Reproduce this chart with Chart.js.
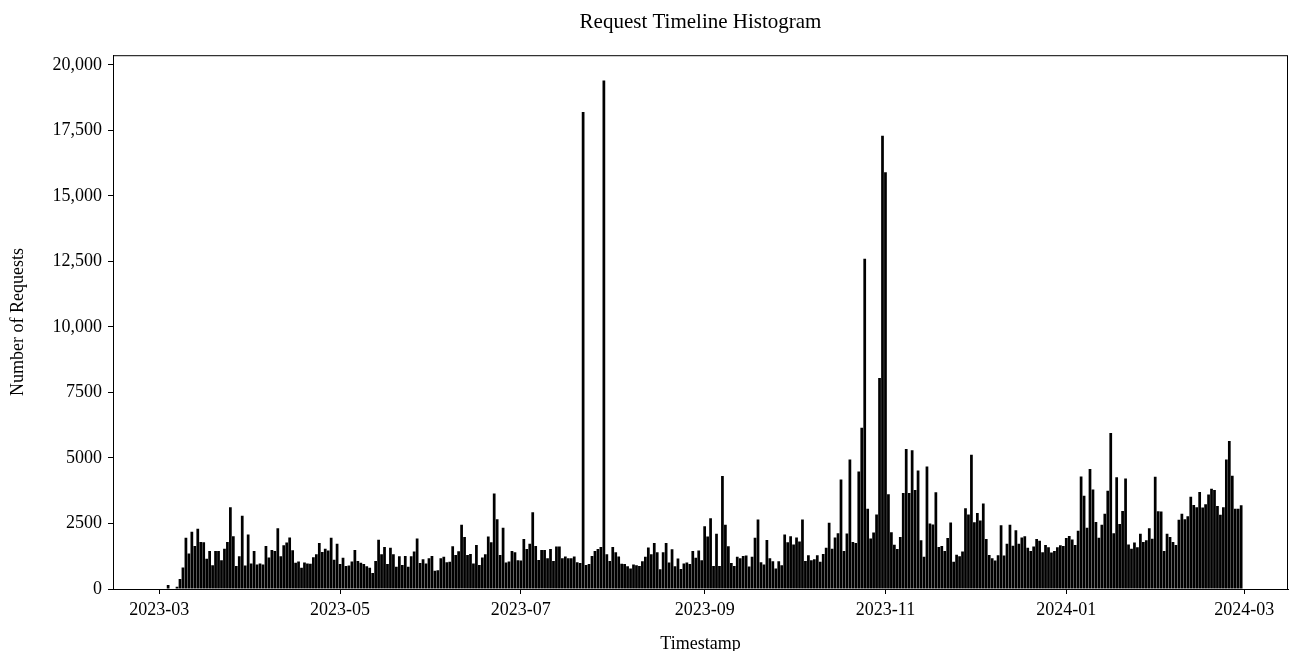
<!DOCTYPE html>
<html>
<head>
<meta charset="utf-8">
<title>Request Timeline Histogram</title>
<script src="https://cdn.jsdelivr.net/npm/chart.js@4.4.1/dist/chart.umd.min.js"></script>
<style>
  html, body { margin: 0; padding: 0; background: #fff; }
  #wrap { width: 1290px; height: 651px; }
</style>
</head>
<body>
<div id="wrap"><canvas id="histChart" width="1290" height="651"></canvas></div>
<script>
// Histograma diario de peticiones (primer bin = 2023-03-04)
const originDate = '2023-03-01';
const firstDay = '2023-03-04';

const requestCounts = [
  150, 0, 0, 90, 380, 820, 1960, 1350, 2180, 1640, 2300, 1790, 1780, 1150, 1450, 910,
  1450, 1450, 1100, 1540, 1790, 3120, 2010, 880, 1250, 2800, 900, 2080,
  970, 1450, 935, 970, 935, 1640, 1200, 1490, 1450, 2320, 1250, 1670, 1770, 1970, 1480,
  1000, 1050, 810, 1010, 970, 960, 1210, 1330, 1760, 1410, 1540, 1470, 1960, 1120, 1730,
  950, 1190, 880,
  900, 1050, 1490, 1070, 1000, 950, 870, 810, 610, 1070, 1880, 1330, 1600, 950, 1570,
  1330, 850, 1250, 920, 1260, 850, 1250, 1430, 1930, 990, 1140, 970, 1170, 1260, 700,
  720, 1170, 1230, 1020,
  1040, 1630, 1300, 1440, 2450, 1980, 1300, 1340, 970, 1680, 920, 1200, 1330, 2000, 1780,
  3640, 2660, 1300, 2340, 1010, 1050, 1450, 1400, 1100, 1090, 1910, 1530, 1730, 2930,
  1640, 1110, 1490, 1490, 1170, 1530,
  1070, 1620, 1620, 1170, 1240, 1170, 1170, 1240, 1020, 990, 18200, 920, 950, 1260, 1450,
  1530, 1600, 19400, 1330, 1070, 1600, 1400, 1240, 960, 950, 870, 780, 935, 910, 880,
  1060, 1230, 1580, 1330,
  1760, 1400, 750, 1400, 1760, 1010, 1520, 870, 1160, 760, 970, 1010, 950, 1450, 1190,
  1470, 1100, 2390, 2000, 2700, 880, 2110, 880, 4310, 2450, 1630, 990, 880, 1230, 1170,
  1260, 1280, 860, 1230,
  1960, 2650, 1020, 935, 1870, 1170, 1060, 780, 1060, 910, 2080, 1780, 2010, 1700, 1970,
  1810, 2650, 1070, 1290, 1100, 1140, 1290, 1040, 1340, 1570, 2530, 1540, 1970, 2130,
  4180, 1450, 2120, 4940,
  1790, 1760, 4480, 6150, 12600, 3060, 1930, 2160, 2840, 8050, 17300, 15900, 3620, 2170,
  1690, 1530, 1980, 3660, 5340, 3660, 5290, 3780, 4520, 1860, 1230, 4670, 2500, 2460,
  3690, 1600, 1640, 1450, 1950,
  2540, 1040, 1310, 1250, 1430, 3080, 2840, 5120, 2550, 2900, 2610, 3260, 1910, 1300,
  1170, 1090, 1290, 2430, 1280, 1730, 2450, 1650, 2240, 1730, 1970, 2010, 1570, 1450,
  1620, 1910, 1840, 1400, 1680, 1590,
  1390, 1450, 1590, 1670, 1640, 1950, 2020, 1890, 1680, 2220, 4290, 3560, 2340, 4580,
  3800, 2560, 1960, 2450, 2870, 3750, 5950, 2130, 4260, 2480, 2980, 4220, 1700, 1540,
  1770, 1590, 2110, 1790, 1860, 2320,
  1920, 4280, 2970, 2960, 1450, 2110, 1980, 1790, 1680, 2640, 2870, 2660, 2780, 3520,
  3210, 3120, 3700, 3110, 3230, 3610, 3830, 3780, 3170, 2830, 3120, 4940, 5650, 4320,
  3060, 3060, 3200
];

const tickDates = ['2023-03-01', '2023-05-01', '2023-07-01', '2023-09-01', '2023-11-01', '2024-01-01', '2024-03-01'];
const tickLabels = ['2023-03', '2023-05', '2023-07', '2023-09', '2023-11', '2024-01', '2024-03'];
const yTicks = [0, 2500, 5000, 7500, 10000, 12500, 15000, 17500, 20000];

function dayOffset(s) {
  return Math.round((Date.parse(s) - Date.parse(originDate)) / 86400000);
}

const start = dayOffset(firstDay);
const points = requestCounts.map((v, i) => ({ x: start + i, y: v }));
const xTickValues = tickDates.map(dayOffset);

const serif = "'Liberation Serif', 'Times New Roman', serif";

// marco completo como en matplotlib
const frame = {
  id: 'frame',
  afterDraw(chart) {
    const a = chart.chartArea;
    const ctx = chart.ctx;
    ctx.save();
    ctx.strokeStyle = '#000';
    ctx.lineWidth = 1;
    ctx.strokeRect(a.left + 0.5, a.top + 0.5, a.right - a.left - 1, a.bottom - a.top);
    ctx.restore();
  }
};

new Chart(document.getElementById('histChart'), {
  type: 'bar',
  data: {
    datasets: [{
      label: 'Requests',
      data: points,
      backgroundColor: '#000',
      borderWidth: 0,
      barPercentage: 0.92,
      categoryPercentage: 1.0
    }]
  },
  options: {
    responsive: false,
    animation: false,
    layout: { padding: { left: 0, right: 2, top: 0, bottom: 0 } },
    plugins: {
      legend: { display: false },
      tooltip: { enabled: false },
      title: {
        display: true,
        text: 'Request Timeline Histogram',
        fullSize: false,
        color: '#000',
        font: { family: serif, size: 21, weight: 'normal', lineHeight: 1.2 },
        padding: { top: 10, bottom: 20 }
      }
    },
    scales: {
      x: {
        type: 'linear',
        min: -15.6,
        max: 380.8,
        offset: false,
        grid: { display: true, drawOnChartArea: false, offset: false, tickLength: 5, tickColor: '#000' },
        border: { color: '#000' },
        afterBuildTicks: axis => { axis.ticks = xTickValues.map(v => ({ value: v })); },
        afterFit: axis => { axis.height = 62; },
        ticks: {
          color: '#000',
          padding: 5,
          maxRotation: 0,
          font: { family: serif, size: 18 },
          callback: v => tickLabels[xTickValues.indexOf(v)]
        },
        title: {
          display: true,
          text: 'Timestamp',
          color: '#000',
          font: { family: serif, size: 18, lineHeight: 0.8 },
          padding: { top: 0, bottom: 0 }
        }
      },
      y: {
        min: 0,
        max: 20370,
        grid: { display: true, drawOnChartArea: false, tickLength: 5, tickColor: '#000' },
        border: { color: '#000' },
        afterBuildTicks: axis => { axis.ticks = yTicks.map(v => ({ value: v })); },
        afterFit: axis => { axis.width = 113; },
        ticks: {
          color: '#000',
          padding: 6,
          font: { family: serif, size: 18 },
          callback: v => v >= 10000 ? v.toLocaleString('en-US') : String(v)
        },
        title: {
          display: true,
          text: 'Number of Requests',
          color: '#000',
          font: { family: serif, size: 18, lineHeight: 1.2 },
          padding: { top: 7, bottom: 0 }
        }
      }
    }
  },
  plugins: [frame]
});
</script>
</body>
</html>
